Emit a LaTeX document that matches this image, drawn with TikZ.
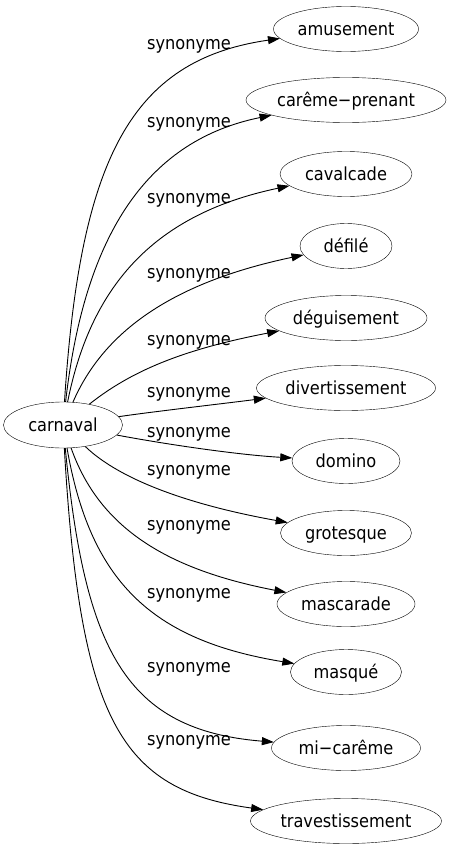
\documentclass[tikz,border=0pt]{standalone}
\usepackage{fontspec}
\setmainfont{DejaVu Sans}[FakeStretch=0.9]
\usetikzlibrary{shapes.geometric,arrows.meta}

\begin{document}
\begin{tikzpicture}[x=1pt, y=-1pt,
        word/.style={ellipse, draw, inner sep=0pt, minimum height=45pt,
            text height=18pt, text depth=4.2pt, font=\fontsize{18pt}{22pt}\selectfont},
        lab/.style={anchor=base, inner sep=0pt, font=\fontsize{18pt}{22pt}\selectfont},
        link/.style={line width=0.9pt, -{Triangle[length=12pt, width=8pt]}}]
        \useasboundingbox (0,0) rectangle (450,851);
        % Source word on the left, its synonyms in one column on the right
        \node[word, minimum width=119pt, minimum height=46pt] (carnaval) at (63,425) {carnaval};
        
        \node[word, minimum width=145pt] (amusement) at (346,29) {amusement};
        \node[word, minimum width=200pt] (careme) at (346,100) {carême−prenant};
        \node[word, minimum width=132pt] (cavalcade) at (346,174) {cavalcade};
        \node[word, minimum width=92pt] (defile) at (346,246) {défilé};
        \node[word, minimum width=162pt] (deguisement) at (346,318) {déguisement};
        \node[word, minimum width=179pt] (divert) at (346,388) {divertissement};
        \node[word, minimum width=108pt] (domino) at (346,461) {domino};
        \node[word, minimum width=131pt] (grotesque) at (346,533) {grotesque};
        \node[word, minimum width=138pt] (mascarade) at (346,604) {mascarade};
        \node[word, minimum width=111pt] (masque) at (346,672) {masqué};
        \node[word, minimum width=149pt] (micareme) at (346,748) {mi−carême};
        \node[word, minimum width=191pt] (travesti) at (346,821) {travestissement};
        
        % Edges
        \draw[link] (carnaval) .. controls (80,160) and (130,60) .. (amusement);
        \draw[link] (carnaval) .. controls (85,230) and (150,140) .. (careme);
        \draw[link] (carnaval) .. controls (90,290) and (150,215) .. (cavalcade);
        \draw[link] (carnaval) .. controls (100,340) and (160,285) .. (defile);
        \draw[link] (carnaval) .. controls (130,372) and (180,350) .. (deguisement);
        \draw[link] (carnaval) .. controls (150,412) and (220,404) .. (divert);
        \draw[link] (carnaval) .. controls (170,445) and (240,455) .. (domino);
        \draw[link] (carnaval) .. controls (120,480) and (190,505) .. (grotesque);
        \draw[link] (carnaval) .. controls (100,530) and (170,570) .. (mascarade);
        \draw[link] (carnaval) .. controls (90,580) and (150,640) .. (masque);
        \draw[link] (carnaval) .. controls (85,650) and (125,730) .. (micareme);
        \draw[link] (carnaval) .. controls (80,720) and (120,790) .. (travesti);
        
        % Labels
        \foreach \n/\y in {1/50, 2/127, 3/203, 4/278, 5/345, 6/397, 7/437, 8/475, 9/530, 10/598, 11/672, 12/745}
            \node[lab] (syn\n) at (189,\y) {synonyme};
\end{tikzpicture}
\end{document}
